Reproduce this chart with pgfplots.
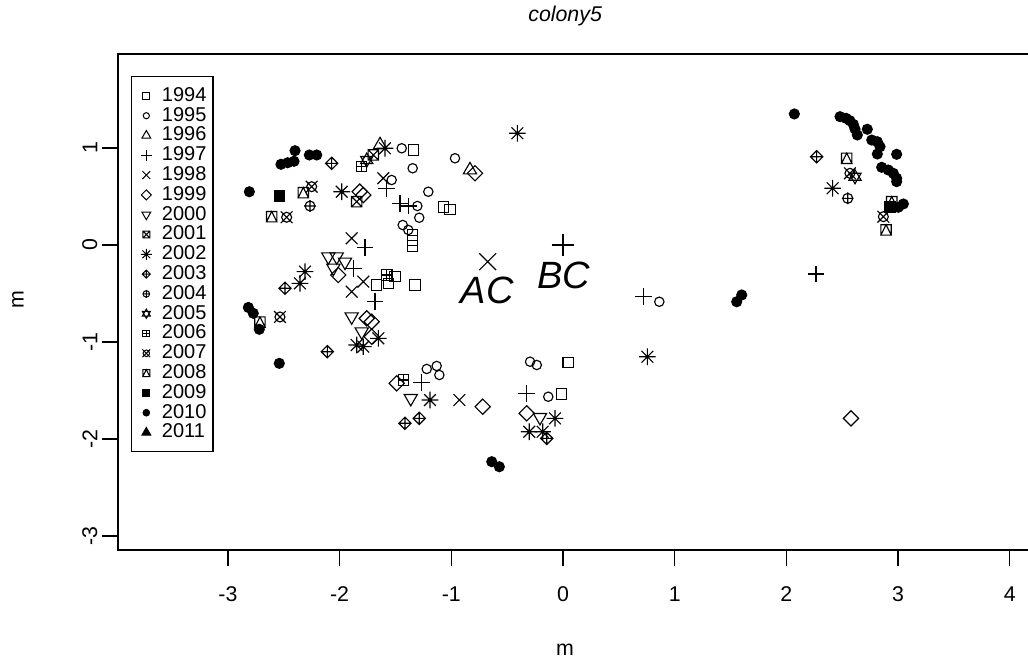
\documentclass[border=0pt]{standalone}
\usepackage{fontspec}
\setmainfont{Liberation Sans}
\usepackage{pgfplots}
\pgfplotsset{compat=1.18}

% R-style plotting symbols (pch 0-17)
\pgfdeclareplotmark{r0}{\pgfpathrectangle{\pgfqpoint{-0.886\pgfplotmarksize}{-0.886\pgfplotmarksize}}{\pgfqpoint{1.772\pgfplotmarksize}{1.772\pgfplotmarksize}}\pgfusepathqstroke}
\pgfdeclareplotmark{r1}{\pgfpathcircle{\pgfpointorigin}{0.8\pgfplotmarksize}\pgfusepathqstroke}
\pgfdeclareplotmark{r2}{\pgfpathmoveto{\pgfqpoint{0pt}{1.3\pgfplotmarksize}}\pgfpathlineto{\pgfqpoint{1.126\pgfplotmarksize}{-0.65\pgfplotmarksize}}\pgfpathlineto{\pgfqpoint{-1.126\pgfplotmarksize}{-0.65\pgfplotmarksize}}\pgfpathclose\pgfusepathqstroke}
\pgfdeclareplotmark{r3}{\pgfpathmoveto{\pgfqpoint{-1.414\pgfplotmarksize}{0pt}}\pgfpathlineto{\pgfqpoint{1.414\pgfplotmarksize}{0pt}}\pgfpathmoveto{\pgfqpoint{0pt}{-1.414\pgfplotmarksize}}\pgfpathlineto{\pgfqpoint{0pt}{1.414\pgfplotmarksize}}\pgfusepathqstroke}
\pgfdeclareplotmark{r4}{\pgfpathmoveto{\pgfqpoint{-\pgfplotmarksize}{-\pgfplotmarksize}}\pgfpathlineto{\pgfqpoint{\pgfplotmarksize}{\pgfplotmarksize}}\pgfpathmoveto{\pgfqpoint{-\pgfplotmarksize}{\pgfplotmarksize}}\pgfpathlineto{\pgfqpoint{\pgfplotmarksize}{-\pgfplotmarksize}}\pgfusepathqstroke}
\pgfdeclareplotmark{r5}{\pgfpathmoveto{\pgfqpoint{0pt}{1.3\pgfplotmarksize}}\pgfpathlineto{\pgfqpoint{1.3\pgfplotmarksize}{0pt}}\pgfpathlineto{\pgfqpoint{0pt}{-1.3\pgfplotmarksize}}\pgfpathlineto{\pgfqpoint{-1.3\pgfplotmarksize}{0pt}}\pgfpathclose\pgfusepathqstroke}
\pgfdeclareplotmark{r6}{\pgfpathmoveto{\pgfqpoint{0pt}{-1.3\pgfplotmarksize}}\pgfpathlineto{\pgfqpoint{1.126\pgfplotmarksize}{0.65\pgfplotmarksize}}\pgfpathlineto{\pgfqpoint{-1.126\pgfplotmarksize}{0.65\pgfplotmarksize}}\pgfpathclose\pgfusepathqstroke}
\pgfdeclareplotmark{r7}{\pgfpathrectangle{\pgfqpoint{-0.886\pgfplotmarksize}{-0.886\pgfplotmarksize}}{\pgfqpoint{1.772\pgfplotmarksize}{1.772\pgfplotmarksize}}\pgfpathmoveto{\pgfqpoint{-0.886\pgfplotmarksize}{-0.886\pgfplotmarksize}}\pgfpathlineto{\pgfqpoint{0.886\pgfplotmarksize}{0.886\pgfplotmarksize}}\pgfpathmoveto{\pgfqpoint{-0.886\pgfplotmarksize}{0.886\pgfplotmarksize}}\pgfpathlineto{\pgfqpoint{0.886\pgfplotmarksize}{-0.886\pgfplotmarksize}}\pgfusepathqstroke}
\pgfdeclareplotmark{r8}{\pgfpathmoveto{\pgfqpoint{-1.414\pgfplotmarksize}{0pt}}\pgfpathlineto{\pgfqpoint{1.414\pgfplotmarksize}{0pt}}\pgfpathmoveto{\pgfqpoint{0pt}{-1.414\pgfplotmarksize}}\pgfpathlineto{\pgfqpoint{0pt}{1.414\pgfplotmarksize}}\pgfpathmoveto{\pgfqpoint{-\pgfplotmarksize}{-\pgfplotmarksize}}\pgfpathlineto{\pgfqpoint{\pgfplotmarksize}{\pgfplotmarksize}}\pgfpathmoveto{\pgfqpoint{-\pgfplotmarksize}{\pgfplotmarksize}}\pgfpathlineto{\pgfqpoint{\pgfplotmarksize}{-\pgfplotmarksize}}\pgfusepathqstroke}
\pgfdeclareplotmark{r9}{\pgfpathmoveto{\pgfqpoint{0pt}{1.05\pgfplotmarksize}}\pgfpathlineto{\pgfqpoint{1.05\pgfplotmarksize}{0pt}}\pgfpathlineto{\pgfqpoint{0pt}{-1.05\pgfplotmarksize}}\pgfpathlineto{\pgfqpoint{-1.05\pgfplotmarksize}{0pt}}\pgfpathclose\pgfpathmoveto{\pgfqpoint{-1.05\pgfplotmarksize}{0pt}}\pgfpathlineto{\pgfqpoint{1.05\pgfplotmarksize}{0pt}}\pgfpathmoveto{\pgfqpoint{0pt}{-1.05\pgfplotmarksize}}\pgfpathlineto{\pgfqpoint{0pt}{1.05\pgfplotmarksize}}\pgfusepathqstroke}
\pgfdeclareplotmark{r10}{\pgfpathcircle{\pgfpointorigin}{0.85\pgfplotmarksize}\pgfpathmoveto{\pgfqpoint{-\pgfplotmarksize}{0pt}}\pgfpathlineto{\pgfqpoint{\pgfplotmarksize}{0pt}}\pgfpathmoveto{\pgfqpoint{0pt}{-\pgfplotmarksize}}\pgfpathlineto{\pgfqpoint{0pt}{\pgfplotmarksize}}\pgfusepathqstroke}
\pgfdeclareplotmark{r11}{\pgfpathmoveto{\pgfqpoint{0pt}{1.2\pgfplotmarksize}}\pgfpathlineto{\pgfqpoint{1.04\pgfplotmarksize}{-0.6\pgfplotmarksize}}\pgfpathlineto{\pgfqpoint{-1.04\pgfplotmarksize}{-0.6\pgfplotmarksize}}\pgfpathclose\pgfpathmoveto{\pgfqpoint{0pt}{-1.2\pgfplotmarksize}}\pgfpathlineto{\pgfqpoint{1.04\pgfplotmarksize}{0.6\pgfplotmarksize}}\pgfpathlineto{\pgfqpoint{-1.04\pgfplotmarksize}{0.6\pgfplotmarksize}}\pgfpathclose\pgfusepathqstroke}
\pgfdeclareplotmark{r12}{\pgfpathrectangle{\pgfqpoint{-0.886\pgfplotmarksize}{-0.886\pgfplotmarksize}}{\pgfqpoint{1.772\pgfplotmarksize}{1.772\pgfplotmarksize}}\pgfpathmoveto{\pgfqpoint{-0.886\pgfplotmarksize}{0pt}}\pgfpathlineto{\pgfqpoint{0.886\pgfplotmarksize}{0pt}}\pgfpathmoveto{\pgfqpoint{0pt}{-0.886\pgfplotmarksize}}\pgfpathlineto{\pgfqpoint{0pt}{0.886\pgfplotmarksize}}\pgfusepathqstroke}
\pgfdeclareplotmark{r13}{\pgfpathcircle{\pgfpointorigin}{0.85\pgfplotmarksize}\pgfpathmoveto{\pgfqpoint{-\pgfplotmarksize}{-\pgfplotmarksize}}\pgfpathlineto{\pgfqpoint{\pgfplotmarksize}{\pgfplotmarksize}}\pgfpathmoveto{\pgfqpoint{-\pgfplotmarksize}{\pgfplotmarksize}}\pgfpathlineto{\pgfqpoint{\pgfplotmarksize}{-\pgfplotmarksize}}\pgfusepathqstroke}
\pgfdeclareplotmark{r14}{\pgfpathrectangle{\pgfqpoint{-0.886\pgfplotmarksize}{-0.886\pgfplotmarksize}}{\pgfqpoint{1.772\pgfplotmarksize}{1.772\pgfplotmarksize}}\pgfpathmoveto{\pgfqpoint{0pt}{0.886\pgfplotmarksize}}\pgfpathlineto{\pgfqpoint{0.886\pgfplotmarksize}{-0.886\pgfplotmarksize}}\pgfpathlineto{\pgfqpoint{-0.886\pgfplotmarksize}{-0.886\pgfplotmarksize}}\pgfpathclose\pgfusepathqstroke}
\pgfdeclareplotmark{r15}{\pgfpathrectangle{\pgfqpoint{-0.886\pgfplotmarksize}{-0.886\pgfplotmarksize}}{\pgfqpoint{1.772\pgfplotmarksize}{1.772\pgfplotmarksize}}\pgfusepathqfillstroke}
\pgfdeclareplotmark{r16}{\pgfpathcircle{\pgfpointorigin}{0.85\pgfplotmarksize}\pgfusepathqfillstroke}
\pgfdeclareplotmark{r17}{\pgfpathmoveto{\pgfqpoint{0pt}{1.3\pgfplotmarksize}}\pgfpathlineto{\pgfqpoint{1.126\pgfplotmarksize}{-0.65\pgfplotmarksize}}\pgfpathlineto{\pgfqpoint{-1.126\pgfplotmarksize}{-0.65\pgfplotmarksize}}\pgfpathclose\pgfusepathqfillstroke}

\pgfplotsset{
  yr/.style={only marks, mark=#1, mark size=4.4pt, black, line width=0.85pt, forget plot},
  lg/.style={only marks, mark=#1, mark size=2.9pt, black, line width=0.75pt},
}

\begin{document}
\begin{tikzpicture}
\begin{axis}[
  at={(88.5pt,87pt)}, anchor=south west,
  scale only axis, width=690pt, height=372pt,
  xmin=-3.984, xmax=4.2525, ymin=-3.144, ymax=1.969,
  xtick={-3,-2,-1,0,1,2,3,4}, ytick={-3,-2,-1,0,1},
  tick pos=left,
  tick align=outside, major tick length=12pt,
  every tick/.style={black, line width=1pt},
  axis line style={line width=1.1pt},
  /pgf/number format/assume math mode=true,
  ticklabel style={font=\fontsize{16}{19}\selectfont},
  xticklabel style={yshift=-12pt},
  yticklabel style={rotate=90, anchor=south},
  xlabel={m}, ylabel={m},
  label style={font=\fontsize{16}{19}\selectfont},
  xlabel style={at={(axis description cs:0.486,-0.2016)}, anchor=center},
  ylabel style={at={(axis description cs:-0.1087,0.504)}, anchor=center},
  title={colony5},
  title style={at={(axis description cs:0.486,1.0605)}, anchor=center, font=\itshape\fontsize{16}{19}\selectfont},
  legend style={
    at={(axis description cs:0.01413,0.9556)}, anchor=north west,
    draw=black, line width=1pt,
    font=\fontsize{15}{15}\selectfont,
    inner xsep=4pt, inner ysep=7pt,
    row sep=0pt, column sep=3.75pt,
    nodes={inner sep=1pt, text height=10.5pt, text depth=2.35pt},
  },
  legend cell align=left,
  legend image code/.code={\draw[#1] plot coordinates {(0pt,0pt)}; \path[draw=none] (-7pt,0pt) -- (7pt,0pt);},
]

\addlegendimage{lg=r0}  \addlegendentry{1994}
\addlegendimage{lg=r1}  \addlegendentry{1995}
\addlegendimage{lg=r2}  \addlegendentry{1996}
\addlegendimage{lg=r3}  \addlegendentry{1997}
\addlegendimage{lg=r4}  \addlegendentry{1998}
\addlegendimage{lg=r5}  \addlegendentry{1999}
\addlegendimage{lg=r6}  \addlegendentry{2000}
\addlegendimage{lg=r7}  \addlegendentry{2001}
\addlegendimage{lg=r8}  \addlegendentry{2002}
\addlegendimage{lg=r9}  \addlegendentry{2003}
\addlegendimage{lg=r10} \addlegendentry{2004}
\addlegendimage{lg=r11} \addlegendentry{2005}
\addlegendimage{lg=r12} \addlegendentry{2006}
\addlegendimage{lg=r13} \addlegendentry{2007}
\addlegendimage{lg=r14} \addlegendentry{2008}
\addlegendimage{lg=r15} \addlegendentry{2009}
\addlegendimage{lg=r16} \addlegendentry{2010}
\addlegendimage{lg=r17} \addlegendentry{2011}

% 1994
\addplot[yr=r0] coordinates {(-1.340,0.979) (-1.072,0.392) (-1.012,0.368) (-1.346,0.103) (-1.346,0.044) (-1.346,-0.010) (-1.668,-0.412) (-1.504,-0.327) (-1.564,-0.395) (-1.325,-0.412) (0.047,-1.209) (-0.012,-1.536)};
% 1995
\addplot[yr=r1] coordinates {(-1.444,0.997) (-1.346,0.791) (-0.967,0.894) (-1.534,0.670) (-1.206,0.549) (-1.304,0.402) (-1.287,0.281) (-1.435,0.206) (-1.385,0.155) (-1.220,-1.278) (-1.131,-1.247) (-1.107,-1.340) (-0.295,-1.203) (-0.235,-1.237) (-0.132,-1.564) (0.862,-0.585)};
% 1996
\addplot[yr=r2] coordinates {(-1.638,1.031) (-0.833,0.773)};
% 1997
\addplot[yr=r3] coordinates {(-1.578,0.585) (-1.459,0.430) (-1.385,0.402) (-1.773,-0.024) (-1.877,-0.240) (-1.683,-0.585) (-1.265,-1.420) (-0.325,-1.529) (0.719,-0.533) (2.265,-0.299)};
% 1998
\addplot[yr=r4] coordinates {(-1.609,0.688) (-1.892,0.069) (-1.788,-0.378) (-1.892,-0.481) (-0.928,-1.598)};
% 1999
\addplot[yr=r5] coordinates {(-0.788,0.739) (-1.788,0.515) (-1.82,0.55) (-2.012,-0.309) (-1.757,-0.756) (-1.713,-0.791) (-1.713,-0.945) (-1.489,-1.426) (-0.719,-1.667) (-0.325,-1.735) (2.578,-1.787)};
% 2000
\addplot[yr=r6] coordinates {(-2.101,-0.121) (-2.026,-0.121) (-1.952,-0.175) (-2.056,-0.237) (-1.892,-0.739) (-1.802,-0.894) (-1.363,-1.580) (-0.206,-1.776)};
% 2001
\addplot[yr=r7] coordinates {(-1.698,0.928) (-1.847,0.446)};
% 2002
\addplot[yr=r8] coordinates {(-1.594,0.997) (-0.409,1.152) (-1.981,0.549) (-2.310,-0.275) (-2.355,-0.395) (-1.847,-1.031) (-1.788,-1.048) (-1.653,-0.962) (-1.191,-1.598) (-0.072,-1.787) (-0.302,-1.925) (-0.182,-1.925) (0.755,-1.152) (2.414,0.585)};
% 2003
\addplot[yr=r9] coordinates {(-2.071,0.842) (-2.489,-0.446) (-2.110,-1.100) (-1.415,-1.838) (-1.287,-1.787) (-0.146,-1.993) (2.271,0.910)};
% 2004
\addplot[yr=r10] coordinates {(-2.265,0.402) (2.549,0.481)};
% 2005
\addplot[yr=r11] coordinates {(-1.757,0.876) (2.614,0.704)};
% 2006
\addplot[yr=r12] coordinates {(-1.802,0.807) (-1.578,-0.309) (-1.430,-1.392)};
% 2007
\addplot[yr=r13] coordinates {(-2.250,0.601) (-2.474,0.286) (-2.534,-0.742) (2.569,0.739) (2.868,0.292)};
% 2008
\addplot[yr=r14] coordinates {(-2.325,0.539) (-2.608,0.292) (-2.713,-0.794) (2.540,0.894) (2.943,0.446) (2.892,0.155)};
% 2009
\addplot[yr=r15] coordinates {(-2.540,0.505) (2.927,0.389)};
% 2010
\addplot[yr=r16] coordinates {(-2.399,0.972) (-2.271,0.928) (-2.205,0.928) (-2.525,0.832) (-2.465,0.848) (-2.408,0.863) (-2.808,0.549) (-2.817,-0.644) (-2.773,-0.704) (-2.719,-0.869) (-2.540,-1.220) (-0.638,-2.234) (-0.570,-2.286) (1.555,-0.585) (1.600,-0.515) (2.071,1.351) (2.480,1.323) (2.534,1.306) (2.569,1.281) (2.599,1.244) (2.614,1.196) (2.635,1.134) (2.724,1.193) (2.764,1.082) (2.814,1.065) (2.838,1.013) (2.814,0.938) (2.987,0.935) (2.853,0.801) (2.912,0.773) (2.957,0.739) (2.987,0.688) (2.987,0.653) (3.047,0.423) (3.002,0.389)};

% centroids AC and BC
\addplot[only marks, mark=r4, mark size=6.3pt, black, line width=0.85pt, forget plot] coordinates {(-0.674,-0.172)};
\addplot[only marks, mark=r3, mark size=6.0pt, black, line width=0.85pt, forget plot] coordinates {(0.0,0.0)};
\node[font=\itshape\fontsize{28.5}{30}\selectfont, anchor=center] at (axis cs:-0.680,-0.464) {AC};
\node[font=\itshape\fontsize{28.5}{30}\selectfont, anchor=center] at (axis cs:0.009,-0.309) {BC};
\end{axis}
\pgfresetboundingbox
\path[use as bounding box] (0,0) rectangle (771pt,499.5pt);
\end{tikzpicture}
\end{document}
